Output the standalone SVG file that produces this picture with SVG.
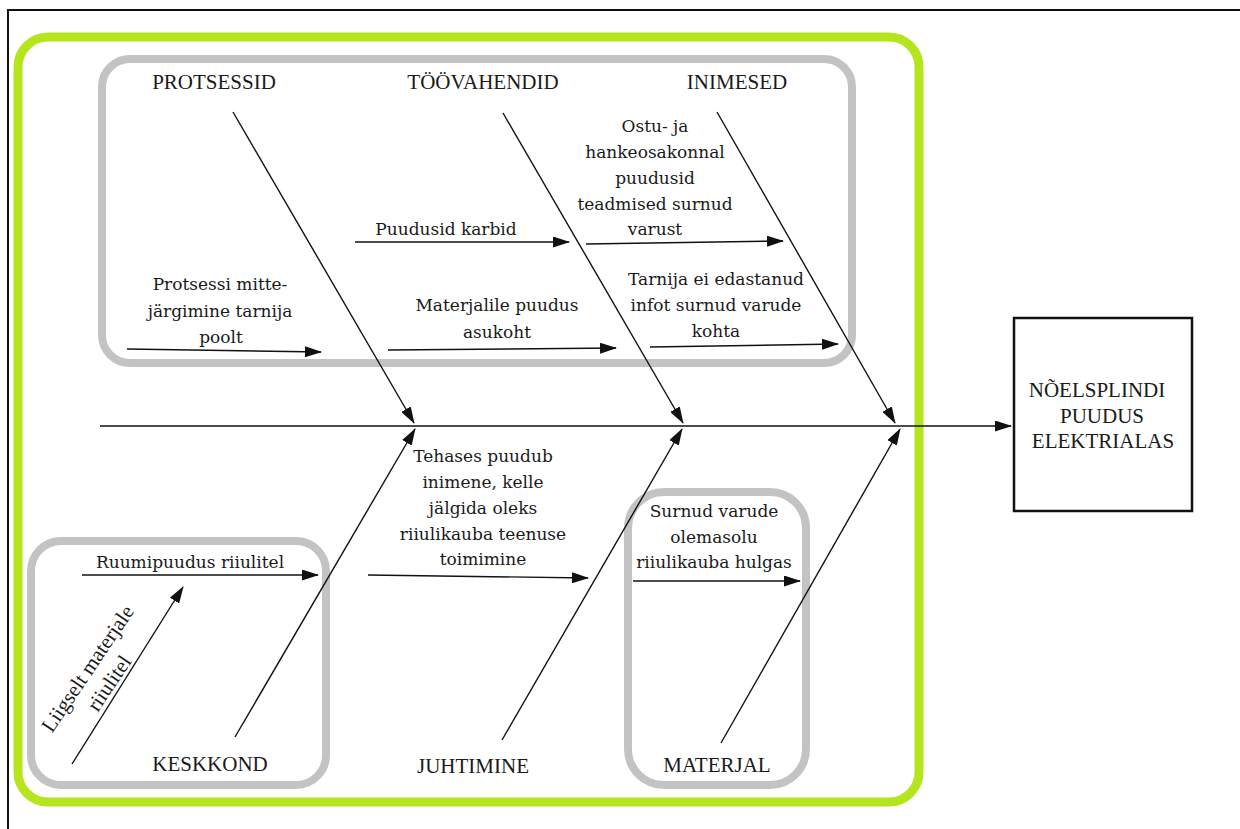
<svg xmlns="http://www.w3.org/2000/svg" width="1240" height="829" viewBox="0 0 1240 829">
<style>
.cat{font-family:"Liberation Serif","Times New Roman",serif;font-size:21px;fill:#1a1a1a;text-anchor:middle}
.txt{font-family:"DejaVu Serif",serif;font-size:17px;fill:#1a1a1a;text-anchor:middle}
.rot{font-family:"Liberation Serif","Times New Roman",serif;font-size:21px;fill:#1a1a1a;text-anchor:middle}
.ln{stroke:#111;stroke-width:1.4;fill:none}
.ar{stroke:#111;stroke-width:1.4;fill:none;marker-end:url(#ah)}
.gray{fill:none;stroke:#c3c3c3;stroke-width:8}
</style>
<defs>
<marker id="ah" markerUnits="userSpaceOnUse" markerWidth="17" markerHeight="11" refX="16" refY="5.5" orient="auto">
<path d="M0,0 L17,5.5 L0,11 Z" fill="#111"/>
</marker>
</defs>
<rect width="1240" height="829" fill="#fff"/>
<rect id="frame" x="8" y="10" width="1260" height="860" fill="none" stroke="#111" stroke-width="2"/>
<g id="outer-group"><rect x="18" y="37" width="901" height="765" rx="30" fill="none" stroke="#b5e61d" stroke-width="9"/></g>
<g id="top-group"><rect class="gray" x="102" y="59" width="750" height="304" rx="28"/></g>
<g id="keskkond-group"><rect class="gray" x="31" y="541" width="295" height="244" rx="30"/></g>
<g id="materjal-group"><rect class="gray" x="628" y="492" width="178" height="293" rx="36"/></g>

<g id="connectors">
<line class="ar" x1="100" y1="426" x2="1011" y2="426"/>
<line class="ar" x1="233" y1="112" x2="414" y2="423"/>
<line class="ar" x1="503" y1="113" x2="683" y2="423"/>
<line class="ar" x1="717" y1="112" x2="895" y2="423"/>
<line class="ar" x1="235" y1="737" x2="415" y2="429"/>
<line class="ar" x1="502" y1="740" x2="682" y2="429"/>
<line class="ar" x1="721" y1="743" x2="900" y2="429"/>
<line class="ar" x1="127" y1="349" x2="321" y2="352"/>
<line class="ar" x1="355" y1="242" x2="569" y2="242"/>
<line class="ar" x1="586" y1="244" x2="783" y2="241"/>
<line class="ar" x1="388" y1="350" x2="616" y2="348"/>
<line class="ar" x1="650" y1="347" x2="838" y2="344"/>
<line class="ar" x1="82" y1="575" x2="318" y2="575"/>
<line class="ar" x1="368" y1="575" x2="588" y2="578"/>
<line class="ar" x1="633" y1="581" x2="800" y2="581"/>
<line class="ar" x1="72" y1="764" x2="183" y2="587"/>
</g>

<g id="protsessid"><text class="cat" x="214" y="89">PROTSESSID</text></g>
<g id="toovahendid"><text class="cat" x="483" y="89">TÖÖVAHENDID</text></g>
<g id="inimesed"><text class="cat" x="737" y="89">INIMESED</text></g>
<g id="keskkond"><text class="cat" x="210" y="771">KESKKOND</text></g>
<g id="juhtimine"><text class="cat" x="473" y="773">JUHTIMINE</text></g>
<g id="materjal"><text class="cat" x="717" y="772">MATERJAL</text></g>

<g id="result">
<rect x="1014" y="318" width="178" height="193" fill="#fff" stroke="#111" stroke-width="2.5"/>
<text class="cat" x="1097" y="397">NÕELSPLINDI</text>
<text class="cat" x="1102" y="423">PUUDUS</text>
<text class="cat" x="1103" y="448">ELEKTRIALAS</text>
</g>

<g id="cause-protsessi">
<text class="txt" x="220" y="290">Protsessi mitte-</text>
<text class="txt" x="220" y="317">järgimine tarnija</text>
<text class="txt" x="221" y="343">poolt</text>
</g>
<g id="cause-karbid"><text class="txt" x="446" y="235">Puudusid karbid</text></g>
<g id="cause-ostu">
<text class="txt" x="655" y="132">Ostu- ja</text>
<text class="txt" x="655" y="158">hankeosakonnal</text>
<text class="txt" x="655" y="184">puudusid</text>
<text class="txt" x="655" y="210">teadmised surnud</text>
<text class="txt" x="655" y="235">varust</text>
</g>
<g id="cause-tarnija">
<text class="txt" x="716" y="285">Tarnija ei edastanud</text>
<text class="txt" x="716" y="311">infot surnud varude</text>
<text class="txt" x="716" y="337">kohta</text>
</g>
<g id="cause-asukoht">
<text class="txt" x="497" y="311">Materjalile puudus</text>
<text class="txt" x="497" y="338">asukoht</text>
</g>
<g id="cause-tehases">
<text class="txt" x="483" y="462">Tehases puudub</text>
<text class="txt" x="483" y="488">inimene, kelle</text>
<text class="txt" x="483" y="514">jälgida oleks</text>
<text class="txt" x="483" y="540">riiulikauba teenuse</text>
<text class="txt" x="483" y="565">toimimine</text>
</g>
<g id="cause-ruumipuudus"><text class="txt" x="190" y="568">Ruumipuudus riiulitel</text></g>
<g id="cause-surnud">
<text class="txt" x="714" y="517">Surnud varude</text>
<text class="txt" x="714" y="543">olemasolu</text>
<text class="txt" x="714" y="568">riiulikauba hulgas</text>
</g>
<g id="cause-liigselt" transform="translate(100,677) rotate(-56)">
<text class="rot" x="0" y="-8">Liigselt materjale</text>
<text class="rot" x="0" y="18">riiulitel</text>
</g>
</svg>
